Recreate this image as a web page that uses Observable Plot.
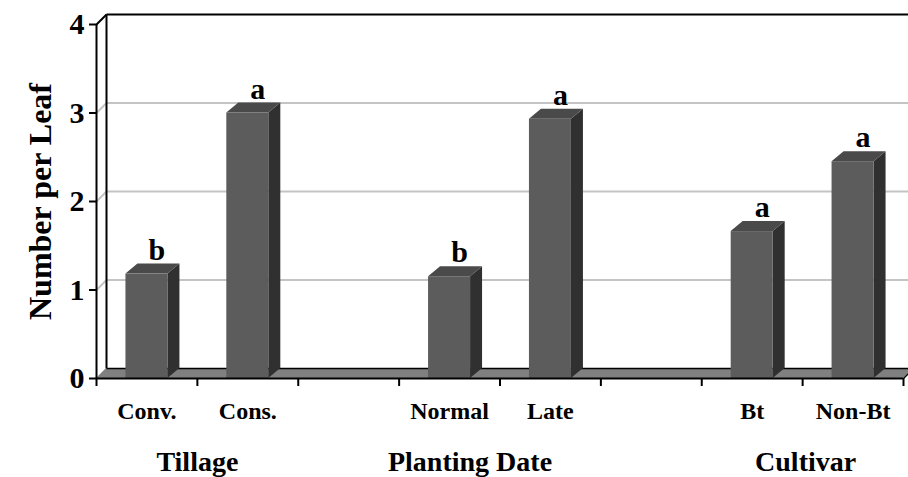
<!DOCTYPE html>
<html><head><meta charset="utf-8">
<script src="https://cdn.jsdelivr.net/npm/d3@7"></script>
<script src="https://cdn.jsdelivr.net/npm/@observablehq/plot@0.6"></script>
<style>
html,body{margin:0;padding:0;background:#fff;overflow:hidden;}
</style></head><body><div id="chart"></div>
<script>
// ---- data ----
const groups = ["Tillage", "Planting Date", "Cultivar"];
const categories = ["Conv.", "Cons.", "Normal", "Late", "Bt", "Non-Bt"];
const values = [1.18, 3.0, 1.15, 2.93, 1.66, 2.45];
const letters = ["b", "a", "b", "a", "a", "a"];
const yTicks = [0, 1, 2, 3, 4];
const gridValues = [1, 2, 3];

// ---- layout ----
const W = 908, H = 477;
const mL = 96, mR = 5, mT = 24, mB = 99;
const nSlots = 8;
const yMax = 4;
const pxPerX = (W - mL - mR) / nSlots;
const pxPerY = (H - mT - mB) / yMax;
const wallDx = 10 / pxPerX, wallDy = 10 / pxPerY;
const barDx = 12 / pxPerX, barDy = 10 / pxPerY;
const halfW = 21 / pxPerX;
const groupShift = [0, -30, 3].map(p => p / pxPerX);

const bars = categories.map((name, i) => {
  const g = Math.floor(i / 2), j = i % 2;
  const c = g * 3 + j + 0.5;
  return {name, value: values[i], letter: letters[i], c, xl: c - halfW, xr: c + halfW};
});
const sides = bars.flatMap(b => [
  {name: b.name, x: b.xr, y1: 0, y2: b.value},
  {name: b.name, x: b.xr + barDx, y1: barDy, y2: b.value + barDy}
]);
const tops = bars.flatMap(b => [
  {name: b.name, x: b.xl, y1: b.value, y2: b.value},
  {name: b.name, x: b.xl + barDx, y1: b.value, y2: b.value + barDy},
  {name: b.name, x: b.xr, y1: b.value, y2: b.value + barDy},
  {name: b.name, x: b.xr + barDx, y1: b.value + barDy, y2: b.value + barDy}
]);
const floor = [
  {x: 0, y1: 0, y2: 0},
  {x: wallDx, y1: 0, y2: wallDy},
  {x: nSlots, y1: 0, y2: wallDy},
  {x: nSlots + wallDx, y1: wallDy, y2: wallDy}
];
const groupLabels = groups.map((g, i) => ({g, x: i * 3 + 1 + groupShift[i]}));
const grid = gridValues.flatMap(v => [
  {x1: 0, y1: v, x2: wallDx, y2: v + wallDy},
  {x1: wallDx, y1: v + wallDy, x2: nSlots + wallDx, y2: v + wallDy}
]);
const walls = [
  {x1: wallDx, y1: wallDy, x2: wallDx, y2: yMax + wallDy},
  {x1: 0, y1: yMax, x2: wallDx, y2: yMax + wallDy},
  {x1: wallDx, y1: yMax + wallDy, x2: nSlots + wallDx, y2: yMax + wallDy}
];
const floorEdges = [
  {x1: wallDx, y1: wallDy, x2: nSlots + wallDx, y2: wallDy},
  {x1: nSlots, y1: 0, x2: nSlots + wallDx, y2: wallDy}
];

const chart = Plot.plot({
  width: W, height: H,
  marginLeft: mL, marginRight: mR, marginTop: mT, marginBottom: mB,
  x: {type: "linear", domain: [0, nSlots]},
  y: {type: "linear", domain: [0, yMax]},
  style: {fontFamily: "'Liberation Serif', 'Times New Roman', serif", fontWeight: "bold", color: "black", background: "white"},
  marks: [
    Plot.link(grid, {x1: "x1", y1: "y1", x2: "x2", y2: "y2", stroke: "#c4c4c4", strokeWidth: 2}),
    Plot.link(walls, {x1: "x1", y1: "y1", x2: "x2", y2: "y2", stroke: "black", strokeWidth: 2}),
    Plot.areaY(floor, {x: "x", y1: "y1", y2: "y2", fill: "#808080", curve: "linear"}),
    Plot.link(floorEdges, {x1: "x1", y1: "y1", x2: "x2", y2: "y2", stroke: "black", strokeWidth: 1.5}),
    Plot.areaY(sides, {x: "x", y1: "y1", y2: "y2", z: "name", fill: "#303030", curve: "linear"}),
    Plot.areaY(tops, {x: "x", y1: "y1", y2: "y2", z: "name", fill: "#4a4a4a", curve: "linear"}),
    Plot.rectY(bars, {x1: "xl", x2: "xr", y1: 0, y2: "value", fill: "#5c5c5c"}),
    Plot.ruleX([0], {y1: 0, y2: yMax, stroke: "black", strokeWidth: 2}),
    Plot.ruleY([0], {x1: 0, x2: nSlots, stroke: "black", strokeWidth: 2}),
    Plot.axisX(d3.range(nSlots + 1), {tickSize: 8, tickFormat: () => "", strokeWidth: 2, label: null}),
    Plot.axisY(yTicks, {tickSize: 7, tickPadding: 5, fontSize: 30, fontWeight: "bold", strokeWidth: 2, label: null, tickFormat: d => String(d)}),
    Plot.text(bars, {x: "c", y: 0, text: "name", dy: 33, fontSize: 24, fontWeight: "bold"}),
    Plot.text(groupLabels, {x: "x", y: 0, text: "g", dy: 84, fontSize: 28, fontWeight: "bold"}),
    Plot.text(bars, {x: "c", y: "value", text: "letter", dx: 10, dy: -24, fontSize: 30, fontWeight: "bold"}),
    Plot.text(["Number per Leaf"], {frameAnchor: "left", textAnchor: "middle", dx: -56, rotate: -90, fontSize: 32, fontWeight: "bold"})
  ]
});
document.getElementById("chart").appendChild(chart);
</script>
</body></html>
